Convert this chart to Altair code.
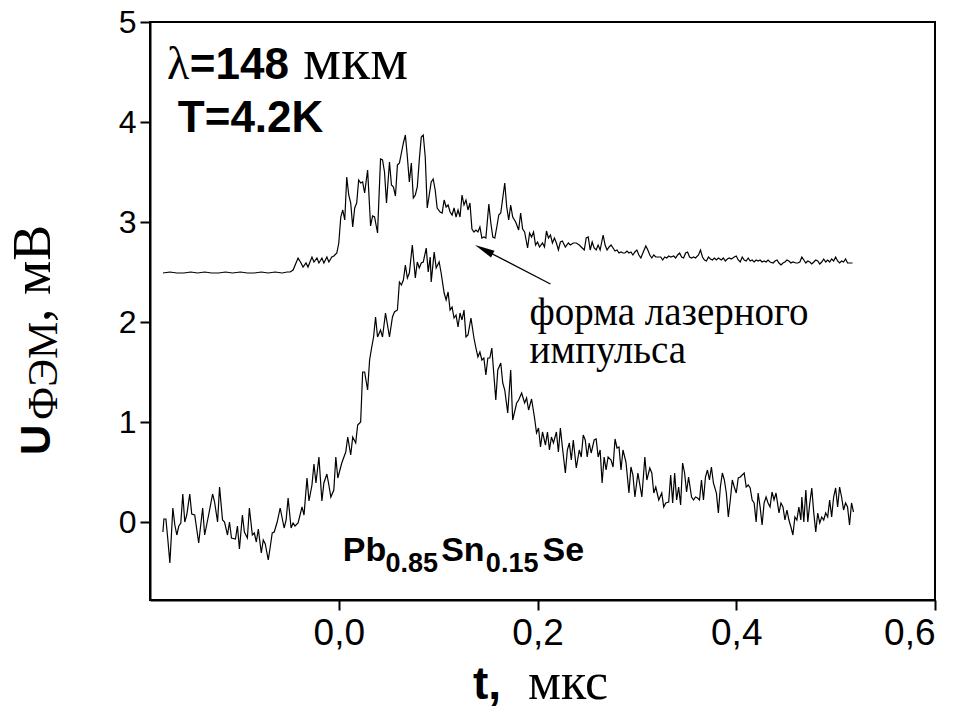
import altair as alt
import pandas as pd

# ---- data ----
# upper trace: laser pulse shape (t in us, U in mV)
pulse_t = [-0.177, -0.170, -0.163, -0.156, -0.149, -0.142, -0.135, -0.128, -0.121, -0.114,
           -0.107, -0.099, -0.092, -0.085, -0.078, -0.071, -0.064, -0.057, -0.052, -0.049,
           -0.046, -0.041, -0.038, -0.036, -0.033, -0.031, -0.027, -0.025, -0.022, -0.020,
           -0.017, -0.015, -0.012, -0.010, -0.007, -0.005, -0.002, 0.000, 0.002, 0.004,
           0.006, 0.008, 0.010, 0.012, 0.014, 0.016, 0.018, 0.020, 0.022, 0.024,
           0.026, 0.029, 0.032, 0.034, 0.036, 0.039, 0.042, 0.044, 0.046, 0.048,
           0.051, 0.053, 0.055, 0.057, 0.059, 0.061, 0.063, 0.065, 0.067, 0.069,
           0.071, 0.073, 0.075, 0.077, 0.079, 0.081, 0.083, 0.085, 0.087, 0.089,
           0.091, 0.093, 0.095, 0.097, 0.099, 0.102, 0.104, 0.106, 0.108, 0.110,
           0.112, 0.114, 0.116, 0.118, 0.120, 0.122, 0.124, 0.126, 0.128, 0.130,
           0.132, 0.134, 0.136, 0.138, 0.140, 0.142, 0.144, 0.146, 0.148, 0.151,
           0.153, 0.155, 0.157, 0.159, 0.161, 0.163, 0.167, 0.169, 0.171, 0.173,
           0.175, 0.178, 0.181, 0.183, 0.185, 0.187, 0.190, 0.192, 0.194, 0.196,
           0.198, 0.200, 0.202, 0.205, 0.207, 0.209, 0.211, 0.213, 0.215, 0.217,
           0.219, 0.221, 0.223, 0.225, 0.228, 0.231, 0.233, 0.236, 0.239, 0.242,
           0.244, 0.247, 0.249, 0.251, 0.253, 0.255, 0.257, 0.259, 0.261, 0.263,
           0.266, 0.268, 0.270, 0.272, 0.274, 0.276, 0.278, 0.280, 0.282, 0.284,
           0.286, 0.288, 0.290, 0.292, 0.294, 0.296, 0.298, 0.300, 0.302, 0.304,
           0.306, 0.309, 0.311, 0.313, 0.315, 0.317, 0.319, 0.321, 0.324, 0.326,
           0.328, 0.330, 0.332, 0.334, 0.337, 0.339, 0.341, 0.343, 0.345, 0.347,
           0.349, 0.351, 0.353, 0.355, 0.357, 0.359, 0.362, 0.364, 0.366, 0.368,
           0.370, 0.372, 0.374, 0.376, 0.378, 0.380, 0.382, 0.385, 0.387, 0.389,
           0.391, 0.393, 0.395, 0.398, 0.400, 0.402, 0.404, 0.406, 0.408, 0.410,
           0.412, 0.414, 0.416, 0.418, 0.420, 0.422, 0.424, 0.426, 0.428, 0.430,
           0.432, 0.434, 0.437, 0.439, 0.441, 0.443, 0.445, 0.447, 0.449, 0.451,
           0.453, 0.455, 0.457, 0.460, 0.462, 0.464, 0.466, 0.468, 0.470, 0.472,
           0.474, 0.476, 0.478, 0.480, 0.482, 0.484, 0.486, 0.488, 0.490, 0.492,
           0.494, 0.496, 0.498, 0.500, 0.502, 0.504, 0.506, 0.508, 0.510, 0.512,
           0.514, 0.517]
pulse_u = [2.49, 2.50, 2.49, 2.49, 2.50, 2.49, 2.50, 2.49, 2.49, 2.50,
           2.49, 2.50, 2.49, 2.49, 2.50, 2.49, 2.50, 2.49, 2.50, 2.50,
           2.52, 2.64, 2.59, 2.55, 2.59, 2.55, 2.65, 2.60, 2.64, 2.59,
           2.64, 2.59, 2.65, 2.60, 2.65, 2.66, 2.69, 2.79, 3.05, 3.12,
           3.02, 3.45, 3.27, 3.19, 2.95, 3.14, 3.19, 3.42, 3.39, 3.40,
           3.29, 3.52, 2.96, 3.06, 3.05, 2.89, 3.63, 3.62, 3.50, 3.19,
           3.60, 3.37, 3.35, 3.26, 3.57, 3.59, 3.69, 3.79, 3.87, 3.65,
           3.40, 3.59, 3.24, 3.27, 3.35, 3.62, 3.85, 3.87, 3.65, 3.14,
           3.27, 3.40, 3.43, 3.32, 3.14, 3.10, 3.09, 3.22, 3.15, 3.17,
           3.10, 3.07, 3.14, 3.05, 3.12, 3.05, 3.27, 3.17, 3.22, 3.12,
           3.19, 2.93, 2.90, 2.92, 2.90, 2.95, 2.84, 2.85, 2.84, 3.18,
           2.99, 2.85, 2.84, 2.95, 3.07, 3.09, 3.39, 3.15, 3.02, 3.17,
           3.05, 3.00, 2.92, 3.09, 2.93, 2.90, 2.74, 2.89, 2.85, 2.90,
           2.77, 2.80, 2.75, 2.79, 2.75, 2.91, 2.84, 2.87, 2.79, 2.84,
           2.79, 2.72, 2.80, 2.81, 2.75, 2.79, 2.77, 2.79, 2.79, 2.77,
           2.75, 2.72, 2.84, 2.85, 2.72, 2.80, 2.74, 2.72, 2.77, 2.72,
           2.87, 2.77, 2.72, 2.75, 2.77, 2.74, 2.71, 2.72, 2.69, 2.70,
           2.69, 2.69, 2.71, 2.69, 2.70, 2.67, 2.70, 2.72, 2.67, 2.64,
           2.69, 2.76, 2.72, 2.67, 2.64, 2.67, 2.65, 2.65, 2.65, 2.62,
           2.65, 2.64, 2.66, 2.65, 2.66, 2.64, 2.67, 2.69, 2.65, 2.64,
           2.69, 2.70, 2.65, 2.64, 2.65, 2.64, 2.67, 2.72, 2.65, 2.62,
           2.61, 2.65, 2.63, 2.62, 2.64, 2.62, 2.64, 2.62, 2.64, 2.61,
           2.63, 2.64, 2.63, 2.65, 2.66, 2.62, 2.60, 2.65, 2.62, 2.61,
           2.64, 2.61, 2.62, 2.60, 2.62, 2.61, 2.62, 2.60, 2.61, 2.60,
           2.62, 2.60, 2.59, 2.61, 2.62, 2.59, 2.57, 2.59, 2.60, 2.62,
           2.61, 2.59, 2.60, 2.59, 2.59, 2.60, 2.65, 2.62, 2.59, 2.61,
           2.60, 2.58, 2.60, 2.62, 2.61, 2.58, 2.60, 2.63, 2.60, 2.62,
           2.60, 2.63, 2.61, 2.65, 2.61, 2.59, 2.61, 2.60, 2.63, 2.59,
           2.59, 2.59]

# lower trace: Pb0.85Sn0.15Se photoresponse
sig_t = [-0.177, -0.176, -0.174, -0.172, -0.170, -0.167, -0.165, -0.163, -0.161, -0.159,
         -0.157, -0.155, -0.153, -0.150, -0.148, -0.145, -0.141, -0.137, -0.135, -0.131,
         -0.127, -0.125, -0.122, -0.120, -0.117, -0.115, -0.112, -0.110, -0.108, -0.104,
         -0.102, -0.100, -0.097, -0.095, -0.092, -0.090, -0.087, -0.085, -0.083, -0.081,
         -0.078, -0.076, -0.074, -0.071, -0.069, -0.067, -0.065, -0.062, -0.059, -0.057,
         -0.055, -0.053, -0.051, -0.048, -0.046, -0.044, -0.041, -0.039, -0.037, -0.035,
         -0.032, -0.030, -0.027, -0.025, -0.023, -0.020, -0.017, -0.015, -0.012, -0.010,
         -0.008, -0.005, -0.003, -0.001, 0.003, 0.007, 0.009, 0.012, 0.014, 0.017,
         0.019, 0.022, 0.024, 0.026, 0.029, 0.031, 0.033, 0.035, 0.037, 0.039,
         0.042, 0.044, 0.047, 0.051, 0.054, 0.056, 0.059, 0.061, 0.063, 0.065,
         0.067, 0.069, 0.071, 0.074, 0.077, 0.079, 0.081, 0.083, 0.085, 0.088,
         0.090, 0.092, 0.093, 0.096, 0.098, 0.101, 0.103, 0.106, 0.108, 0.110,
         0.112, 0.114, 0.116, 0.118, 0.120, 0.122, 0.124, 0.126, 0.128, 0.130,
         0.133, 0.136, 0.138, 0.140, 0.142, 0.144, 0.146, 0.148, 0.150, 0.152,
         0.154, 0.158, 0.160, 0.163, 0.165, 0.167, 0.170, 0.173, 0.175, 0.179,
         0.181, 0.184, 0.187, 0.189, 0.191, 0.194, 0.197, 0.199, 0.201, 0.203,
         0.205, 0.208, 0.210, 0.212, 0.214, 0.216, 0.219, 0.221, 0.223, 0.225,
         0.228, 0.230, 0.232, 0.234, 0.236, 0.239, 0.242, 0.244, 0.246, 0.248,
         0.250, 0.252, 0.254, 0.257, 0.259, 0.261, 0.263, 0.265, 0.267, 0.269,
         0.271, 0.274, 0.276, 0.278, 0.280, 0.282, 0.284, 0.286, 0.289, 0.292,
         0.294, 0.296, 0.298, 0.301, 0.303, 0.305, 0.308, 0.310, 0.313, 0.315,
         0.317, 0.319, 0.322, 0.325, 0.327, 0.329, 0.332, 0.334, 0.336, 0.338,
         0.340, 0.342, 0.344, 0.346, 0.348, 0.350, 0.352, 0.355, 0.357, 0.359,
         0.361, 0.363, 0.365, 0.367, 0.369, 0.371, 0.373, 0.375, 0.377, 0.380,
         0.382, 0.384, 0.386, 0.388, 0.390, 0.392, 0.394, 0.396, 0.398, 0.400,
         0.402, 0.404, 0.406, 0.408, 0.410, 0.412, 0.414, 0.416, 0.418, 0.420,
         0.422, 0.424, 0.426, 0.428, 0.430, 0.432, 0.434, 0.436, 0.438, 0.440,
         0.443, 0.445, 0.447, 0.449, 0.451, 0.453, 0.455, 0.457, 0.459, 0.461,
         0.463, 0.465, 0.466, 0.468, 0.470, 0.472, 0.474, 0.476, 0.478, 0.480,
         0.482, 0.484, 0.486, 0.488, 0.490, 0.492, 0.494, 0.496, 0.498, 0.500,
         0.502, 0.504, 0.506, 0.508, 0.510, 0.512, 0.514, 0.516, 0.518]
sig_u = [-0.10, 0.03, 0.03, -0.18, -0.41, 0.14, -0.03, -0.13, -0.04, -0.01,
         0.28, 0.00, 0.07, 0.28, 0.08, 0.07, -0.21, 0.14, -0.13, 0.07,
         0.28, 0.20, 0.00, 0.35, 0.02, 0.00, -0.13, 0.00, -0.16, -0.17,
         -0.04, -0.27, 0.07, -0.10, -0.16, 0.14, -0.13, -0.11, -0.20, -0.07,
         -0.31, -0.18, -0.22, -0.38, -0.25, -0.11, -0.10, 0.00, 0.14, 0.04,
         -0.06, 0.02, 0.24, -0.06, -0.01, -0.04, -0.01, 0.07, 0.15, 0.07,
         0.44, 0.21, 0.37, 0.58, 0.39, 0.65, 0.21, 0.39, 0.48, 0.37,
         0.25, 0.32, 0.65, 0.44, 0.59, 0.70, 0.85, 0.67, 0.85, 0.79,
         0.97, 1.00, 1.50, 1.50, 1.32, 1.62, 1.74, 1.85, 2.05, 1.85,
         1.92, 1.85, 2.09, 1.85, 2.05, 2.10, 2.12, 2.40, 2.37, 2.42,
         2.57, 2.44, 2.49, 2.77, 2.44, 2.60, 2.54, 2.59, 2.60, 2.74,
         2.50, 2.65, 2.40, 2.70, 2.54, 2.60, 2.49, 2.29, 2.22, 2.30,
         2.12, 2.15, 2.04, 2.07, 1.95, 2.09, 2.02, 2.12, 1.85, 1.87,
         2.04, 1.84, 1.74, 1.65, 1.70, 1.62, 1.64, 1.47, 1.64, 1.64,
         1.74, 1.22, 1.52, 1.59, 1.39, 1.32, 1.09, 1.52, 1.02, 1.19,
         1.22, 1.29, 1.19, 1.24, 1.12, 1.23, 1.04, 0.89, 0.94, 0.75,
         0.90, 0.77, 0.90, 0.72, 0.85, 0.79, 0.90, 0.70, 0.94, 0.75,
         0.49, 0.72, 0.79, 0.62, 0.82, 0.54, 0.72, 0.65, 0.87, 0.82,
         0.65, 0.79, 0.69, 0.82, 0.83, 0.65, 0.72, 0.39, 0.65, 0.52,
         0.65, 0.62, 0.55, 0.83, 0.74, 0.75, 0.52, 0.72, 0.60, 0.29,
         0.55, 0.47, 0.25, 0.49, 0.37, 0.25, 0.65, 0.42, 0.54, 0.49,
         0.29, 0.35, 0.22, 0.29, 0.15, 0.19, 0.20, 0.47, 0.19, 0.49,
         0.22, 0.35, 0.17, 0.59, 0.49, 0.30, 0.45, 0.25, 0.22, 0.25,
         0.24, 0.22, 0.42, 0.22, 0.45, 0.52, 0.42, 0.55, 0.39, 0.29,
         0.09, 0.35, 0.49, 0.42, 0.29, 0.05, 0.22, 0.42, 0.35, 0.29,
         0.44, 0.45, 0.47, 0.49, 0.35, 0.37, 0.34, 0.22, 0.19, 0.00,
         0.29, 0.15, -0.03, 0.19, 0.25, 0.19, 0.15, 0.30, 0.22, 0.29,
         0.09, 0.19, 0.15, 0.02, 0.12, 0.02, -0.05, -0.13, 0.05, 0.02,
         0.15, 0.02, 0.25, 0.00, 0.32, 0.00, 0.19, 0.34, 0.09, -0.10,
         0.09, -0.01, 0.05, 0.02, 0.09, 0.05, 0.22, 0.05, 0.25, 0.34,
         0.15, 0.35, 0.25, 0.12, 0.19, 0.15, -0.03, 0.19, 0.10]

x_ticks = [0.0, 0.2, 0.4, 0.6]
y_ticks = [0, 1, 2, 3, 4, 5]

SANS = "Liberation Sans"
SERIF = "Liberation Serif"

xs = alt.Scale(domain=[-0.19, 0.6], nice=False, zero=False)
ys = alt.Scale(domain=[-0.78, 5.0], nice=False, zero=False)

x_axis = alt.Axis(values=x_ticks, labelExpr="replace(format(datum.value, '.1f'), '.', ',')",
                  title=None, grid=False, labelFont=SANS, labelFontSize=37,
                  labelColor="black", labelPadding=5, tickSize=10, tickWidth=2,
                  tickColor="black", domainColor="black", domainWidth=2)
y_axis = alt.Axis(values=y_ticks, format="d", title=None, grid=False, labelFont=SANS,
                  labelFontSize=32, labelColor="black", labelPadding=4, tickSize=10,
                  tickWidth=2, tickColor="black", domainColor="black", domainWidth=2)

pulse_df = pd.DataFrame({"t": pulse_t, "u": pulse_u})
sig_df = pd.DataFrame({"t": sig_t, "u": sig_u})

base_x = alt.X("t:Q", scale=xs, axis=x_axis)
base_y = alt.Y("u:Q", scale=ys, axis=y_axis)

pulse_line = alt.Chart(pulse_df).mark_line(color="black", strokeWidth=1.2).encode(x=base_x, y=base_y)
sig_line = alt.Chart(sig_df).mark_line(color="black", strokeWidth=1.2).encode(x="t:Q", y="u:Q")


def label(text, t, u, font, size, weight="normal"):
    df = pd.DataFrame({"t": [t], "u": [u], "s": [text]})
    return alt.Chart(df).mark_text(align="left", baseline="alphabetic", font=font,
                                   fontSize=size, fontWeight=weight, color="black").encode(
        x="t:Q", y="u:Q", text="s:N")


labels = [
    label("λ", -0.173, 4.43, SERIF, 46),
    label("=148", -0.150, 4.43, SANS, 44, "bold"),
    label("мкм", -0.036, 4.43, SERIF, 60),
    label("T=4.2K", -0.162, 3.90, SANS, 44, "bold"),
    label("форма лазерного", 0.192, 1.97, SERIF, 39),
    label("импульса", 0.192, 1.59, SERIF, 39),
    label("Pb", 0.004, -0.39, SANS, 34, "bold"),
    label("0.85", 0.047, -0.50, SANS, 27, "bold"),
    label("Sn", 0.103, -0.39, SANS, 34, "bold"),
    label("0.15", 0.148, -0.50, SANS, 27, "bold"),
    label("Se", 0.205, -0.39, SANS, 34, "bold"),
]

# arrow pointing at the laser pulse
arrow_df = pd.DataFrame({"t": [0.213], "u": [2.38], "t2": [0.142], "u2": [2.745]})
arrow_line = alt.Chart(arrow_df).mark_rule(color="black", strokeWidth=1.3).encode(
    x="t:Q", y="u:Q", x2="t2:Q", y2="u2:Q")
head_df = pd.DataFrame({"t": [0.137], "u": [2.77]})
arrow_head = alt.Chart(head_df).mark_point(
    shape="M0,0L-0.38,2L0.38,2Z", filled=True, size=400, angle=297, color="black",
    opacity=1).encode(x="t:Q", y="u:Q")

# axis titles (mixed fonts) placed relative to the plot area
one = pd.DataFrame({"k": [0]})


def outside(text, x, y, font, size, weight="normal", angle=0):
    return alt.Chart(one).mark_text(text=text, align="left", baseline="alphabetic", font=font,
                                    fontSize=size, fontWeight=weight, angle=angle,
                                    color="black").encode(x=alt.value(x), y=alt.value(y))


titles = [
    outside("t,", 323, 677, SANS, 46, "bold"),
    outside("мкс", 378, 677, SERIF, 52),
    outside("U", -100, 433, SANS, 42, "bold", 270),
    outside("ФЭМ", -93, 398, SERIF, 42, "normal", 270),
    outside(", мВ", -100, 300, SERIF, 54, "normal", 270),
]

chart = alt.layer(sig_line, pulse_line, arrow_line, arrow_head, *labels, *titles).properties(
    width=785, height=578,
    padding={"left": 150, "top": 22, "right": 27, "bottom": 109},
    autosize=alt.AutoSizeParams(type="none"),
    background="white",
).configure_view(stroke="black", strokeWidth=2)

chart.save("out.html", embed_options={"renderer": "svg", "actions": False})
